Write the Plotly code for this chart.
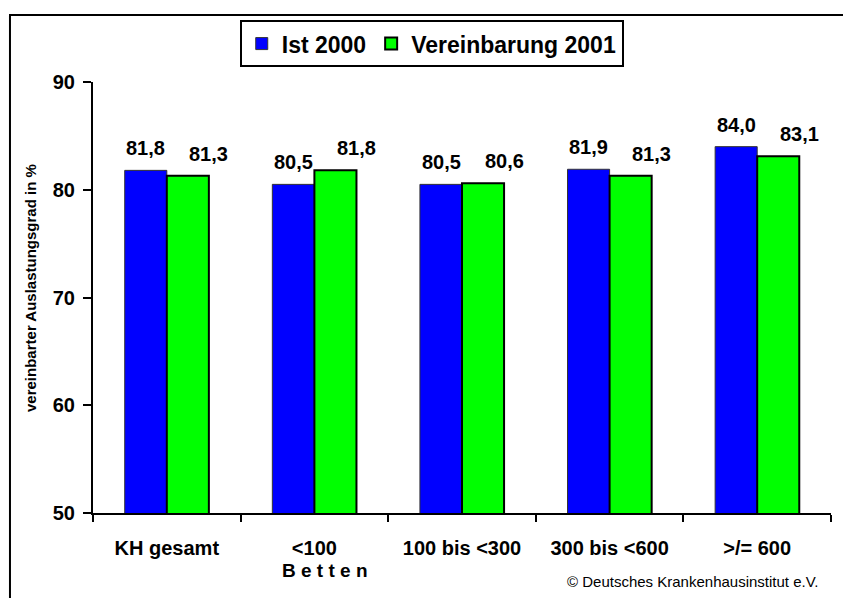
import plotly.graph_objects as go

categories = ["KH gesamt", "<100", "100 bis <300", "300 bis <600", ">/= 600"]
ist_2000 = [81.8, 80.5, 80.5, 81.9, 84.0]
vereinbarung_2001 = [81.3, 81.8, 80.6, 81.3, 83.1]
series_names = ["Ist 2000", "Vereinbarung 2001"]
y_ticks = [50, 60, 70, 80, 90]

FONT = "Liberation Sans, Arial, sans-serif"
BLUE = "#0000FF"
GREEN = "#00FF00"


def fmt(v):
    return f"{v:.1f}".replace(".", ",")


fig = go.Figure()
fig.add_trace(go.Bar(
    x=categories, y=ist_2000, name=series_names[0],
    marker=dict(color=BLUE, line=dict(color="#333333", width=1)),
))
fig.add_trace(go.Bar(
    x=categories, y=vereinbarung_2001, name=series_names[1],
    marker=dict(color=GREEN, line=dict(color="black", width=2)),
))

annotations = []
for c, v in zip(categories, ist_2000):
    annotations.append(dict(x=c, y=v, xref="x", yref="y", text=fmt(v), showarrow=False,
                            xshift=-21, yshift=9, yanchor="bottom", xanchor="center",
                            font=dict(family=FONT, size=20, color="black", weight="bold")))
for c, v in zip(categories, vereinbarung_2001):
    annotations.append(dict(x=c, y=v, xref="x", yref="y", text=fmt(v), showarrow=False,
                            xshift=42, yshift=9, yanchor="bottom", xanchor="center",
                            font=dict(family=FONT, size=20, color="black", weight="bold")))

annotations.append(dict(x=-0.0854, y=0.522, xref="paper", yref="paper",
                        text="vereinbarter Auslastungsgrad in %", textangle=-90,
                        showarrow=False, xanchor="center", yanchor="middle",
                        font=dict(family=FONT, size=15, color="black", weight="bold")))
annotations.append(dict(x=0.3144, y=-0.134, xref="paper", yref="paper",
                        text="B e t t e n", showarrow=False, xanchor="center", yanchor="middle",
                        font=dict(family=FONT, size=19, color="black", weight="bold")))
annotations.append(dict(x=0.985, y=-0.16, xref="paper", yref="paper",
                        text="© Deutsches Krankenhausinstitut e.V.", showarrow=False,
                        xanchor="right", yanchor="middle",
                        font=dict(family=FONT, size=15, color="black")))

fig.update_layout(
    width=843, height=590,
    margin=dict(l=85, r=20, t=74, b=85, autoexpand=False),
    paper_bgcolor="white", plot_bgcolor="white",
    barmode="group", bargap=0.43, bargroupgap=0,
    font=dict(family=FONT, color="black"),
    showlegend=True,
    legend=dict(orientation="h", x=0.459, y=1.089, xanchor="center", yanchor="middle",
                bordercolor="black", borderwidth=2, bgcolor="white",
                font=dict(family=FONT, size=23, color="black", weight="bold"),
                itemclick=False, itemdoubleclick=False),
    annotations=annotations,
    shapes=[dict(type="rect", xref="paper", yref="paper",
                 x0=-0.1125, x1=1.0257, y0=-0.3, y1=1.1555,
                 line=dict(color="black", width=2), layer="below")],
    xaxis=dict(type="category", showline=True, linecolor="black", linewidth=2,
               ticks="outside", tickson="boundaries", ticklen=7, tickwidth=2, tickcolor="black",
               showgrid=False, zeroline=False, ticklabelstandoff=16,
               tickfont=dict(family=FONT, size=20, color="black", weight="bold")),
    yaxis=dict(range=[50, 90], tickvals=y_ticks, showline=True, linecolor="black", linewidth=2,
               ticks="outside", ticklen=8, tickwidth=2, tickcolor="black",
               showgrid=False, zeroline=False, ticklabelstandoff=4,
               tickfont=dict(family=FONT, size=20, color="black", weight="bold")),
)

fig.write_html("out.html")
